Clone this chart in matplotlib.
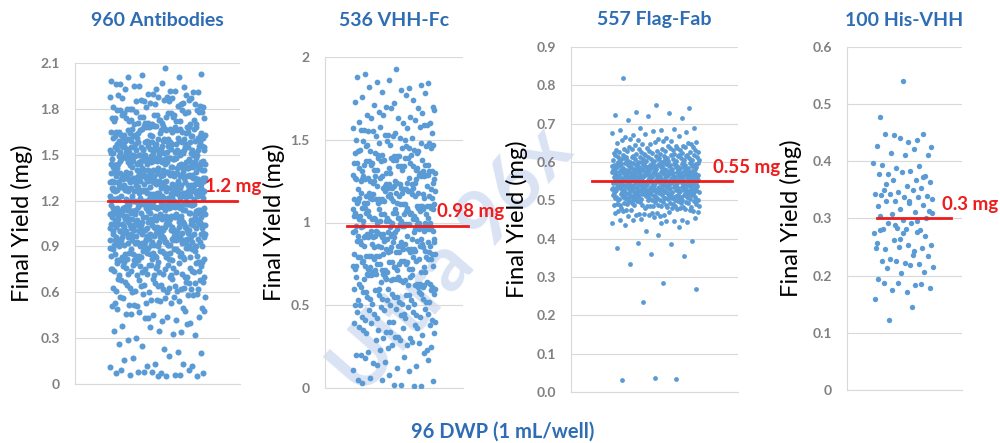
import numpy as np
import matplotlib.pyplot as plt

plt.rcParams['font.family'] = ['Lato', 'DejaVu Sans']

# panel titles and mean yield of each group
titles = ["960 Antibodies", "536 VHH-Fc", "557 Flag-Fab", "100 His-VHH"]
means = [1.2, 0.98, 0.55, 0.3]
mean_labels = ["1.2 mg", "0.98 mg", "0.55 mg", "0.3 mg"]
xlabel = "96 DWP (1 mL/well)"
ylabel = "Final Yield (mg)"

# y axis ticks of each panel
ticks_1 = [0, 0.3, 0.6, 0.9, 1.2, 1.5, 1.8, 2.1]
tick_labels_1 = ["0", "0.3", "0.6", "0.9", "1.2", "1.5", "1.8", "2.1"]
ticks_2 = [0, 0.5, 1.0, 1.5, 2.0]
tick_labels_2 = ["0", "0.5", "1", "1.5", "2"]
ticks_3 = [0, 0.1, 0.2, 0.3, 0.4, 0.5, 0.6, 0.7, 0.8, 0.9]
tick_labels_3 = ["0.0", "0.1", "0.2", "0.3", "0.4", "0.5", "0.6", "0.7", "0.8", "0.9"]
ticks_4 = [0, 0.1, 0.2, 0.3, 0.4, 0.5, 0.6]
tick_labels_4 = ["0", "0.1", "0.2", "0.3", "0.4", "0.5", "0.6"]

# final yields, antibodies (x0.01 mg)
antibodies = [
    5, 9, 6, 8, 7, 5, 6, 9, 8, 7, 6, 8, 5, 7,
    16, 13, 12, 11, 18, 17, 12, 13,
    26, 21, 25, 20, 23, 29,
    39, 37, 35, 33, 30, 32, 35, 38, 34,
    43, 48, 44, 46, 40, 45, 49, 42, 47, 44, 41, 46, 48, 43,
    51, 53, 52, 58, 55, 57, 54, 59, 50, 56, 52, 58, 55, 53, 57, 51, 59, 54, 56, 50, 53, 57,
    63, 60, 62, 66, 69, 61, 64, 68, 62, 65, 67, 60, 63, 69, 61, 66, 64, 68, 62, 65,
    67, 60, 63, 66, 69, 61, 64, 68, 62, 65, 67, 63,
    72, 75, 70, 78, 74, 76, 71, 79, 73, 77, 75, 72, 70, 78, 74, 76, 71, 79, 73, 77,
    72, 75, 70, 78, 74, 76, 71, 79, 73, 77, 74, 72, 76, 70, 78, 75, 71, 79, 73, 77,
    81, 84, 87, 80, 83, 86, 89, 82, 85, 88, 81, 84, 87, 80, 83, 86, 89, 82, 85, 88,
    84, 81, 87, 83, 80, 86, 82, 89, 85, 88, 81, 84, 87, 80, 83, 86, 89, 82, 85, 88,
    83, 86, 81, 88, 84, 80, 87, 85, 82, 89, 84, 86, 81, 88, 83,
    92, 95, 98, 90, 93, 96, 99, 91, 94, 97, 93, 90, 96, 99, 92, 95, 98, 91, 94, 97,
    91, 94, 97, 90, 93, 96, 99, 92, 95, 98, 95, 92, 98, 90, 94, 96, 91, 99, 93, 97,
    90, 93, 96, 99, 92, 95, 98, 91, 94, 97, 94, 91, 97, 93, 99, 90, 96, 92, 98, 95,
    92, 95, 98, 91, 94, 97, 90, 93, 96, 99, 93, 96, 91, 98, 95, 97, 92, 94,
    102, 105, 108, 100, 103, 106, 109, 101, 104, 107, 103, 100, 106, 109, 102, 105, 108, 101, 104, 107,
    101, 104, 107, 100, 103, 106, 109, 102, 105, 108, 105, 102, 108, 100, 104, 106, 101, 109, 103, 107,
    100, 103, 106, 109, 102, 105, 108, 101, 104, 107, 104, 101, 107, 103, 109, 100, 106, 102, 108, 105,
    102, 105, 108, 101, 104, 107, 100, 103, 106, 109, 103, 106, 101, 108, 105, 100, 107, 102, 109, 104,
    106, 101, 104, 108, 102, 107, 103, 105, 109, 100,
    113, 117, 110, 114, 119, 112, 116, 111, 118, 115, 111, 115, 118, 113, 110, 117, 112, 119, 114, 116,
    116, 112, 119, 110, 114, 118, 111, 115, 113, 117, 110, 113, 117, 119, 111, 116, 114, 118, 112, 115,
    118, 114, 111, 116, 113, 110, 119, 115, 117, 112, 112, 119, 115, 111, 117, 114, 110, 116, 118, 113,
    117, 110, 113, 118, 115, 112, 116, 119, 111, 114, 114, 118, 116, 112, 110, 119, 113, 111, 115, 117,
    115, 111, 119, 113, 117, 116, 110, 118, 112, 114, 116, 119,
    124, 121, 128, 125, 120, 127, 123, 129, 122, 126, 122, 126, 120, 129, 124, 121, 127, 125, 123, 128,
    127, 123, 125, 121, 128, 120, 126, 122, 129, 124, 120, 128, 122, 126, 123, 129, 121, 124, 127, 125,
    125, 129, 124, 120, 126, 122, 128, 123, 121, 127, 129, 122, 127, 123, 121, 125, 120, 128, 124, 126,
    121, 125, 123, 128, 127, 124, 129, 120, 126, 122, 126, 120, 129, 124, 122, 128, 125, 127, 123, 121,
    123, 127, 121, 122, 125, 126, 124, 129, 128, 120, 124, 127, 122,
    134, 131, 138, 135, 130, 137, 133, 139, 132, 136, 132, 136, 130, 139, 134, 131, 137, 135, 133, 138,
    137, 133, 135, 131, 138, 130, 136, 132, 139, 134, 130, 138, 132, 136, 133, 139, 131, 134, 137, 135,
    135, 139, 134, 130, 136, 132, 138, 133, 131, 137, 139, 132, 137, 133, 131, 135, 130, 138, 134, 136,
    131, 135, 133, 138, 137, 134, 139, 130, 136, 132, 136, 130, 139, 134, 132, 138, 135, 137, 133, 131,
    133, 137, 131, 132, 135, 136, 134, 139, 138, 130, 135, 133, 137,
    143, 147, 140, 145, 149, 142, 146, 141, 148, 144, 141, 145, 148, 143, 140, 147, 142, 149, 144, 146,
    146, 142, 149, 140, 144, 148, 141, 145, 143, 147, 140, 143, 147, 149, 141, 146, 144, 148, 142, 145,
    148, 144, 141, 146, 143, 140, 149, 145, 147, 142, 142, 149, 145, 141, 147, 144, 140, 146, 148, 143,
    147, 140, 143, 148, 145, 142, 146, 149, 141, 144, 144, 148, 146, 142, 140, 149, 143, 141, 145, 147,
    145, 141, 149, 143, 147, 144, 148,
    152, 155, 158, 150, 153, 156, 159, 151, 154, 157, 153, 150, 156, 159, 152, 155, 158, 151, 154, 157,
    151, 154, 157, 150, 153, 156, 159, 152, 155, 158, 155, 152, 158, 150, 154, 156, 151, 159, 153, 157,
    150, 153, 156, 159, 152, 155, 158, 151, 154, 157, 154, 151, 157, 153, 159, 150, 156, 152, 158, 155,
    152, 155, 158, 151, 154, 157, 150, 153, 156, 159, 153, 156, 151, 158, 155, 150, 157, 152, 159, 154,
    163, 167, 160, 165, 169, 162, 166, 161, 168, 164, 161, 165, 168, 163, 160, 167, 162, 169, 164, 166,
    166, 162, 169, 160, 164, 168, 161, 165, 163, 167, 160, 163, 167, 169, 161, 166, 164, 168, 162, 165,
    168, 164, 161, 166, 163, 160, 169, 165, 167, 162, 162, 169, 165, 161, 167, 164, 160, 166, 168, 163,
    172, 175, 178, 170, 173, 176, 179, 171, 174, 177, 173, 170, 176, 179, 172, 175, 178, 171, 174, 177,
    171, 174, 177, 170, 173, 176, 179, 172, 175, 178, 175, 172, 178, 170, 174, 176, 171, 179, 173, 177,
    184, 181, 188, 185, 180, 187, 183, 189, 182, 186, 182, 186, 180, 189, 184, 181, 187, 185, 183, 188,
    187, 183, 185, 181, 188, 180, 186,
    190, 196, 192, 195, 191, 197, 193, 194, 190, 198, 192, 195, 191, 193, 196,
    201, 202, 203, 207, 201,
]

# final yields, VHH-Fc (x0.01 mg)
vhh_fc = [
    2, 3, 1, 5, 4, 2, 6, 1, 8, 5,
    10, 14, 17, 12, 18, 13, 16, 11, 19, 15,
    21, 26, 20, 28, 23, 25, 29, 22, 27, 24, 20, 26, 29, 23,
    31, 35, 38, 30, 33, 36, 39, 32, 34, 37, 30, 35, 38, 31, 33, 36, 34, 39,
    42, 45, 48, 40, 43, 46, 49, 41, 44, 47, 43, 40, 46, 49, 42, 45, 48, 41, 44, 47, 40, 45,
    51, 54, 57, 50, 53, 56, 59, 52, 55, 58, 53, 50, 56, 59, 52, 55, 58, 51, 54, 57,
    51, 54, 57, 50, 53, 56, 59, 52, 55, 58,
    63, 67, 60, 65, 69, 62, 66, 61, 68, 64, 61, 65, 68, 63, 60, 67, 62, 69, 64, 66,
    66, 62, 69, 60, 64, 68, 61, 65, 63, 67, 60, 63, 67, 69, 61, 66,
    72, 75, 78, 70, 73, 76, 79, 71, 74, 77, 73, 70, 76, 79, 72, 75, 78, 71, 74, 77,
    71, 74, 77, 70, 73, 76, 79, 72, 75, 78, 75, 72, 78, 70, 74, 76, 71, 79, 73, 77,
    84, 81, 88, 85, 80, 87, 83, 89, 82, 86, 82, 86, 80, 89, 84, 81, 87, 85, 83, 88,
    87, 83, 85, 81, 88, 80, 86, 82, 89, 84, 80, 88, 82, 86, 83, 89, 81, 84, 87, 85,
    85, 89, 84, 80, 86, 82,
    93, 97, 90, 95, 99, 92, 96, 91, 98, 94, 91, 95, 98, 93, 90, 97, 92, 99, 94, 96,
    96, 92, 99, 90, 94, 98, 91, 95, 93, 97, 90, 93, 97, 99, 91, 96, 94, 98, 92, 95,
    98, 94, 91, 96, 93, 90, 99, 95, 97, 92,
    102, 105, 108, 100, 103, 106, 109, 101, 104, 107, 103, 100, 106, 109, 102, 105, 108, 101, 104, 107,
    101, 104, 107, 100, 103, 106, 109, 102, 105, 108, 105, 102, 108, 100, 104, 106, 101, 109, 103, 107,
    100, 103, 106, 109, 102, 105, 108, 101, 104,
    114, 111, 118, 115, 110, 117, 113, 119, 112, 116, 112, 116, 110, 119, 114, 111, 117, 115, 113, 118,
    117, 113, 115, 111, 118, 110, 116, 112, 119, 114, 110, 118, 112, 116, 113, 119, 111, 114, 117, 115,
    115, 119, 114, 110, 116, 112, 118,
    123, 127, 120, 125, 129, 122, 126, 121, 128, 124, 121, 125, 128, 123, 120, 127, 122, 129, 124, 126,
    126, 122, 129, 120, 124, 128, 121, 125, 123, 127, 120, 123, 127, 129, 121, 126, 124, 128, 122, 125,
    128, 124, 121, 126,
    132, 135, 138, 130, 133, 136, 139, 131, 134, 137, 133, 130, 136, 139, 132, 135, 138, 131, 134, 137,
    131, 134, 137, 130, 133, 136, 139, 132, 135, 138, 135, 132, 138, 130, 134, 136, 131, 139,
    144, 141, 148, 145, 140, 147, 143, 149, 142, 146, 142, 146, 140, 149, 144, 141, 147, 145, 143, 148,
    147, 143, 145, 141, 148, 140, 146, 142,
    153, 157, 150, 155, 159, 152, 156, 151, 158, 154, 151, 155, 158, 153, 150, 157, 152, 159, 154, 156,
    162, 165, 168, 160, 163, 166, 169, 161, 164, 167, 160, 163, 165, 169,
    170, 173, 177, 171, 178, 172, 176, 174, 179, 170,
    180, 182, 183, 186, 188, 181, 185, 184,
    193, 190,
]

# final yields, Flag-Fab (x0.001 mg)
flag_fab = [
    37, 32, 35, 235, 270, 285,
    335, 355, 360, 375, 385, 390, 395,
    410, 435, 430, 420,
    441, 445, 448, 443, 457, 450, 446, 452, 455, 442, 458, 449,
    461, 466, 470, 463, 475, 468, 472, 478, 464, 469, 462, 474, 477, 467, 471, 479, 465, 473, 460, 476,
    481, 485, 489, 483, 487, 492, 496, 480, 484, 488, 491, 495, 499, 482, 486, 490, 494, 498, 483, 487,
    493, 497, 481, 485, 489, 492, 496, 484, 488, 491, 495, 499, 486, 490, 494,
    502, 507, 511, 515, 519, 504, 508, 512, 516, 500, 505, 509, 513, 517, 501, 506, 510, 514, 518, 503,
    507, 511, 515, 519, 502, 508, 512, 516, 500, 504, 509, 513, 517, 501, 505, 510, 514, 518, 503, 506,
    511, 515, 519, 502, 507, 512, 516, 500, 504, 508, 513, 517, 501, 505, 509, 514, 518, 503, 506, 510,
    512,
    522, 527, 531, 535, 539, 524, 528, 532, 536, 520, 525, 529, 533, 537, 521, 526, 530, 534, 538, 523,
    527, 531, 535, 539, 522, 528, 532, 536, 520, 524, 529, 533, 537, 521, 525, 530, 534, 538, 523, 526,
    531, 535, 539, 522, 527, 532, 536, 520, 524, 528, 533, 537, 521, 525, 529, 534, 538, 523, 526, 530,
    535, 539, 522, 527, 531, 536, 520, 524, 528, 532, 537, 521, 525, 529, 534, 538,
    542, 547, 551, 555, 559, 544, 548, 552, 556, 540, 545, 549, 553, 557, 541, 546, 550, 554, 558, 543,
    547, 551, 555, 559, 542, 548, 552, 556, 540, 544, 549, 553, 557, 541, 545, 550, 554, 558, 543, 546,
    551, 555, 559, 542, 547, 552, 556, 540, 544, 548, 553, 557, 541, 545, 549, 554, 558, 543, 546, 550,
    555, 559, 542, 547, 551, 556, 540, 544, 548, 552, 557, 541, 545, 549, 554, 558, 543, 546, 550, 553,
    555,
    562, 567, 571, 575, 579, 564, 568, 572, 576, 560, 565, 569, 573, 577, 561, 566, 570, 574, 578, 563,
    567, 571, 575, 579, 562, 568, 572, 576, 560, 564, 569, 573, 577, 561, 565, 570, 574, 578, 563, 566,
    571, 575, 579, 562, 567, 572, 576, 560, 564, 568, 573, 577, 561, 565, 569, 574, 578, 563, 566, 570,
    575, 579, 562, 567, 571, 576, 560, 564, 568, 572, 577, 561, 565, 569, 574, 578,
    582, 587, 591, 595, 599, 584, 588, 592, 596, 580, 585, 589, 593, 597, 581, 586, 590, 594, 598, 583,
    587, 591, 595, 599, 582, 588, 592, 596, 580, 584, 589, 593, 597, 581, 585, 590, 594, 598, 583, 586,
    591, 595, 599, 582, 587, 592, 596, 580, 584, 588, 593, 597, 581, 585, 589, 594, 598, 583, 586, 590,
    595, 599, 582, 587, 591, 596,
    602, 607, 611, 615, 619, 604, 608, 612, 616, 600, 605, 609, 613, 617, 601, 606, 610, 614, 618, 603,
    607, 611, 615, 619, 602, 608, 612, 616, 600, 604, 609, 613, 617, 601, 605, 610, 614, 618, 603, 606,
    611, 615, 619, 602, 607,
    622, 627, 631, 635, 639, 624, 628, 632, 636, 620, 625, 629, 633, 637, 621, 626, 630, 634, 638, 623,
    627, 631, 635, 639, 622, 628, 632, 636, 624,
    641, 645, 649, 653, 657, 643, 647, 651, 655, 659, 642, 646, 650, 654, 658, 648,
    661, 665, 668, 672, 676, 663, 670, 678,
    680, 683, 685, 688, 690, 684,
    710, 715, 720, 723, 728, 730, 740, 748,
    818,
]

# final yields, His-VHH (x0.001 mg)
his_vhh = [
    541, 478, 438, 446, 425, 434, 447, 448, 441, 427, 421, 414, 411, 411, 394, 392, 388, 397, 383, 377,
    374, 381, 378, 368, 368, 364, 356, 349, 353, 347, 343, 349, 343, 339, 338, 341, 338, 331, 334, 331,
    331, 324, 317, 321, 311, 307, 313,
    282, 282, 280, 283, 274, 292, 292, 270, 274, 280, 276, 263, 254, 253, 247, 249, 250, 249, 236, 229,
    234, 223, 226, 220, 226, 215, 218, 214, 207, 204, 195, 184, 175, 179, 172, 188, 185, 188, 160, 145,
    122,
    300, 298, 305, 295, 288, 310, 327, 360, 372, 265, 258, 243,
]

yields = [np.array(antibodies) / 100, np.array(vhh_fc) / 100,
          np.array(flag_fab) / 1000, np.array(his_vhh) / 1000]
ticks = [ticks_1, ticks_2, ticks_3, ticks_4]
tick_labels = [tick_labels_1, tick_labels_2, tick_labels_3, tick_labels_4]

# layout in pixels of the 1000x443 picture: left, top, right, bottom of each plot area
W, H = 1000, 443
boxes = [(75, 63, 240, 384), (325, 57, 463, 388), (571, 47, 738, 392), (847, 47, 962, 390)]
bands = [(0.21, 0.79), (0.20, 0.80), (0.245, 0.766), (0.226, 0.748)]
line_spans = [(0.20, 0.98), (0.16, 1.036), (0.126, 0.964), (0.26, 0.904)]
label_x = [0.785, 0.815, 0.85, 0.83]
ylabel_x = [-0.255, -0.29, -0.257, -0.39]
dot_size = [19, 17, 12, 15]

blue = '#5b9bd5'
red = '#ee1c1c'
grey = '#d9d9d9'
title_blue = '#2e6db4'

fig = plt.figure(figsize=(W / 100, H / 100), dpi=100)

# watermark behind the plots
fig.text(0.452, 0.41, "Ultra 96x", rotation=49, fontsize=56, fontweight='bold',
         color='#d0dcf1', alpha=0.8, ha='center', va='center', zorder=-1)

for i in range(4):
    l, t, r, b = boxes[i]
    ax = fig.add_axes([l / W, 1 - b / H, (r - l) / W, (b - t) / H])
    ax.patch.set_alpha(0)

    y = yields[i]
    # spread the points sideways (golden ratio steps)
    spread = (np.arange(len(y)) * 0.6180339887 + 0.5) % 1.0
    x = bands[i][0] + (bands[i][1] - bands[i][0]) * spread
    ax.scatter(x, y, s=dot_size[i], color=blue, linewidths=0, zorder=3)

    # mean line and label
    ax.plot(line_spans[i], [means[i], means[i]], color=red, lw=2,
            transform=ax.get_yaxis_transform(), clip_on=False, zorder=4)
    ax.annotate(mean_labels[i], xy=(label_x[i], means[i]), xycoords=ax.get_yaxis_transform(),
                xytext=(0, 4), textcoords='offset points', ha='left', va='bottom',
                color=red, fontsize=13.5, fontweight='bold', annotation_clip=False)

    ax.set_xlim(0, 1)
    ax.set_ylim(0, ticks[i][-1])
    ax.set_xticks([])
    ax.set_yticks(ticks[i])
    ax.set_yticklabels(tick_labels[i], fontsize=10, fontweight='bold', color='#808080')
    ax.tick_params(axis='y', length=0, pad=11)
    ax.yaxis.grid(True, color=grey, lw=0.8)
    ax.set_axisbelow(True)
    for side in ['top', 'right']:
        ax.spines[side].set_visible(False)
    for side in ['left', 'bottom']:
        ax.spines[side].set_color(grey)
        ax.spines[side].set_linewidth(0.8)

    ax.set_ylabel(ylabel, fontsize=17, color='black')
    ax.yaxis.set_label_coords(ylabel_x[i], 0.5)

    fig.text((l + r) / 2 / W, 1 - 20 / H, titles[i], ha='center', va='center',
             fontsize=14, fontweight='bold', color=title_blue)

fig.text(0.503, 0.025, xlabel, ha='center', va='center', fontsize=14.5,
         fontweight='bold', color=title_blue)

fig.savefig('out.png', dpi=100)
